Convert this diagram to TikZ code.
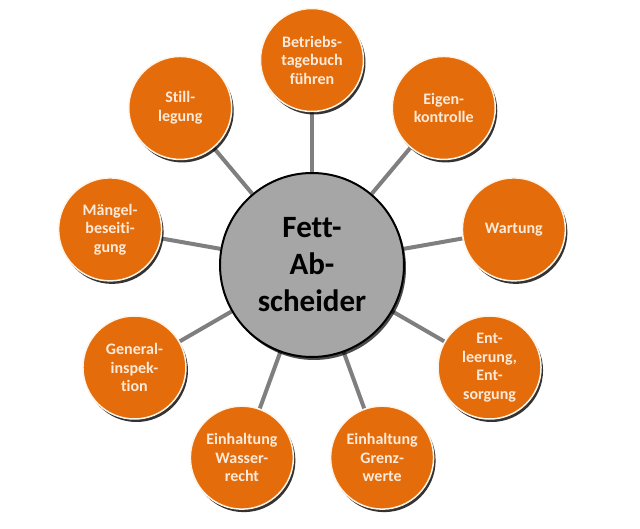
\documentclass[tikz,border=0pt]{standalone}
\usepackage{fontspec}
\setmainfont{Carlito}[Ligatures=NoCommon]
\usetikzlibrary{calc,shadows,backgrounds}
\definecolor{orangefill}{HTML}{E46C0A}
\definecolor{textcream}{HTML}{FDEADA}
\definecolor{linegray}{HTML}{7F7F7F}
\definecolor{centergray}{HTML}{A6A6A6}
\definecolor{rimcream}{HTML}{FFF4E8}
\tikzset{
  outer/.style={circle, fill=orangefill, draw=rimcream, line width=1.5pt,
    minimum size=103pt, inner sep=0pt, align=center, text=textcream,
    font=\fontsize{16}{18.5}\selectfont\bfseries,
    drop shadow={shadow xshift=2pt, shadow yshift=-3pt, fill=black, opacity=0.8}},
  hub/.style={circle, fill=centergray, draw=black, line width=2pt,
    minimum size=184pt, inner sep=0pt, align=center, text=black,
    font=\fontsize{31}{37}\selectfont\bfseries,
    drop shadow={shadow xshift=2pt, shadow yshift=-3pt, fill=black, opacity=0.7}},
  link/.style={draw=linegray, line width=4pt}
}
\begin{document}
\begin{tikzpicture}
\useasboundingbox (0,0) rectangle (640pt,-529pt);
\coordinate (C) at (312pt,-265pt);
\node[hub] (hub) at (C) {Fett-\\Ab-\\scheider};
\node[outer] (n1) at ($(C)+(90:205pt)$) {Betriebs-\\tagebuch\\führen};
\node[outer] (n2) at ($(C)+(50:205pt)$) {Eigen-\\kontrolle};
\node[outer] (n3) at ($(C)+(10:205pt)$) {Wartung};
\node[outer] (n4) at ($(C)+(-30:205pt)$) {Ent-\\leerung,\\Ent-\\sorgung};
\node[outer] (n5) at ($(C)+(-70:205pt)$) {Einhaltung\\Grenz-\\werte};
\node[outer] (n6) at ($(C)+(-110:205pt)$) {Einhaltung\\Wasser-\\recht};
\node[outer] (n7) at ($(C)+(-150:205pt)$) {General-\\inspek-\\tion};
\node[outer] (n8) at ($(C)+(170:205pt)$) {Mängel-\\beseiti-\\gung};
\node[outer] (n9) at ($(C)+(130:205pt)$) {Still-\\legung};
\begin{scope}[on background layer]
\foreach \n in {n1,n2,n3,n4,n5,n6,n7,n8,n9} {
  \draw[link] (hub) -- (\n);
}
\end{scope}
\end{tikzpicture}
\end{document}
